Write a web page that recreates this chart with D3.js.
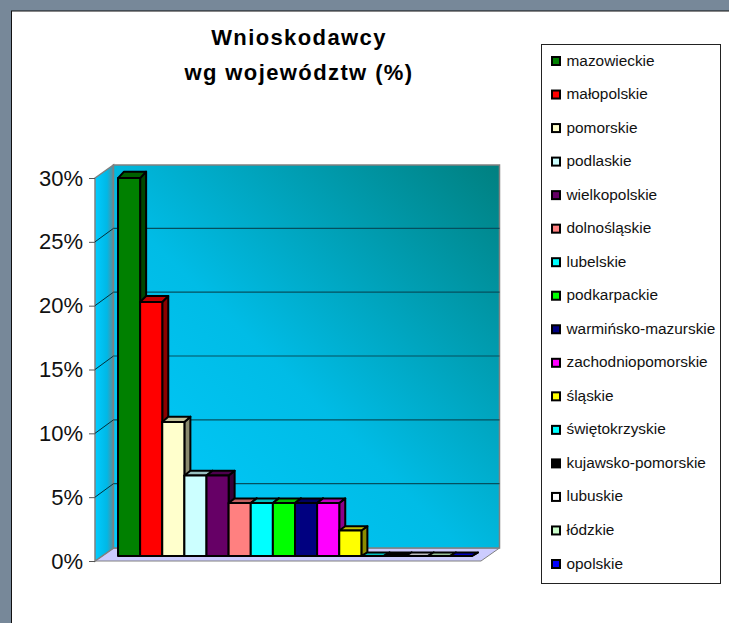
<!DOCTYPE html>
<html>
<head>
<meta charset="utf-8">
<script src="https://d3js.org/d3.v7.min.js"></script>
<style>
  body{ margin:0; background:#fff; }
  svg{ display:block; font-family:"Liberation Sans",Arial,sans-serif; }
</style>
</head>
<body>
<svg id="chart" width="729" height="623"></svg>
<script>
  var regions = ["mazowieckie","małopolskie","pomorskie","podlaskie","wielkopolskie","dolnośląskie","lubelskie","podkarpackie","warmińsko-mazurskie","zachodniopomorskie","śląskie","świętokrzyskie","kujawsko-pomorskie","lubuskie","łódzkie","opolskie"];
  var shares = [29.6,19.9,10.5,6.3,6.3,4.15,4.15,4.15,4.15,4.15,2.0,0,0,0,0,0];
  var colors = ["#008000","#ff0000","#ffffcc","#ccffff","#660066","#ff8080","#00ffff","#00ff00","#000080","#ff00ff","#ffff00","#00ffff","#000000","#ffffff","#ccffcc","#0000ff"];
  var titleLines = ["Wnioskodawcy","wg województw (%)"];
  var yTicks = [0,5,10,15,20,25,30];

  var svg = d3.select("#chart");
  var defs = svg.append("defs");

  var wallGrad = defs.append("linearGradient").attr("id","wall")
    .attr("x1","0%").attr("y1","100%").attr("x2","100%").attr("y2","0%");
  wallGrad.append("stop").attr("offset","0%").attr("stop-color","#00ccff");
  wallGrad.append("stop").attr("offset","45%").attr("stop-color","#00bce6");
  wallGrad.append("stop").attr("offset","100%").attr("stop-color","#008080");

  var sideGrad = defs.append("linearGradient").attr("id","side")
    .attr("x1","0%").attr("y1","0%").attr("x2","100%").attr("y2","0%");
  sideGrad.append("stop").attr("offset","0%").attr("stop-color","#00ccff");
  sideGrad.append("stop").attr("offset","65%").attr("stop-color","#00b8e6");
  sideGrad.append("stop").attr("offset","100%").attr("stop-color","#5f8c99");

  // slide background and white panel
  svg.append("rect").attr("width",729).attr("height",623).attr("fill","#778899");
  svg.append("rect").attr("x",11.5).attr("y",11).attr("width",730).attr("height",630)
    .attr("fill","#fff").attr("stroke","#111").attr("stroke-width",1);

  // title
  svg.append("g").selectAll("text").data(titleLines).enter().append("text")
    .attr("x",299).attr("y",function(d,i){ return 45+i*34.5; })
    .attr("text-anchor","middle")
    .attr("font-size",22).attr("font-weight","bold").attr("fill","#000")
    .attr("letter-spacing",1.4)
    .text(function(d){ return d; });

  // plot geometry
  var left = 95, right = 481;
  var wallDx = 18.5, wallDy = 13;
  var y = d3.scaleLinear().domain([0,30]).range([561,178]);
  var x = d3.scaleBand().domain(regions).range([118,472]).padding(0);
  var barDx = 6, barBase = 5;
  var barY = function(v){ return y(v)-barBase; };
  // the top face gets flatter towards the floor
  var barDy = function(v){ return 3.5+3*Math.sqrt(v/30); };

  function pts(a){ return a.map(function(p){ return p.join(","); }).join(" "); }

  // floor
  svg.append("polygon")
    .attr("points",pts([[left,y(0)],[right,y(0)],[right+wallDx,y(0)-wallDy],[left+wallDx,y(0)-wallDy]]))
    .attr("fill","#ccccff").attr("stroke","#808080").attr("stroke-width",1);
  // side wall
  svg.append("polygon")
    .attr("points",pts([[left,y(30)],[left+wallDx,y(30)-wallDy],[left+wallDx,y(0)-wallDy],[left,y(0)]]))
    .attr("fill","url(#side)").attr("stroke","#808080").attr("stroke-width",1.5);
  // back wall
  svg.append("rect")
    .attr("x",left+wallDx).attr("y",y(30)-wallDy)
    .attr("width",right-left).attr("height",y(0)-y(30))
    .attr("fill","url(#wall)").attr("stroke","#808080").attr("stroke-width",1.5);

  // grid lines, wall and side parts
  var gridVals = yTicks.filter(function(d){ return d>0 && d<30; });
  svg.append("g").selectAll("line.back").data(gridVals).enter().append("line")
    .attr("x1",left+wallDx).attr("x2",right+wallDx)
    .attr("y1",function(d){ return y(d)-wallDy-0.5; }).attr("y2",function(d){ return y(d)-wallDy-0.5; })
    .attr("stroke","#04505f").attr("stroke-width",1.2);
  svg.append("g").selectAll("line.side").data(gridVals).enter().append("line")
    .attr("x1",left).attr("x2",left+wallDx)
    .attr("y1",function(d){ return y(d); }).attr("y2",function(d){ return y(d)-wallDy-0.5; })
    .attr("stroke","#04303a").attr("stroke-width",1);

  // value axis
  var axis = d3.axisLeft(y).tickValues(yTicks).tickSize(6).tickPadding(6)
    .tickFormat(function(d){ return d+"%"; });
  var axisG = svg.append("g").attr("transform","translate("+left+",0)").call(axis);
  axisG.select(".domain").remove();
  axisG.selectAll("line").attr("stroke","#555");
  axisG.selectAll("text").attr("font-size",22).attr("font-family","Liberation Sans").attr("fill","#111");

  // bars: side, top, then front
  var shade = function(c,k){ return d3.color(c).darker(k).formatHex(); };
  var bars = svg.append("g").selectAll("g").data(regions).enter().append("g")
    .attr("stroke","#000").attr("stroke-width",2).attr("stroke-linejoin","round");
  bars.append("polygon").attr("points",function(d,i){
      var r = x(d)+x.bandwidth(), t = barY(shares[i]), b = barY(0);
      var dy = barDy(shares[i]);
      return pts([[r,t],[r+barDx,t-dy],[r+barDx,b-3.5],[r,b]]);
    })
    .attr("fill",function(d,i){ return shade(colors[i],1.7); });
  bars.append("polygon").attr("points",function(d,i){
      var l = x(d), r = l+x.bandwidth(), t = barY(shares[i]);
      var dy = barDy(shares[i]);
      return pts([[l,t],[l+barDx,t-dy],[r+barDx,t-dy],[r,t]]);
    })
    .attr("fill",function(d,i){ return shade(colors[i],0.8); });
  bars.append("rect")
    .attr("x",function(d){ return x(d); })
    .attr("y",function(d,i){ return barY(shares[i]); })
    .attr("width",x.bandwidth())
    .attr("height",function(d,i){ return barY(0)-barY(shares[i]); })
    .attr("fill",function(d,i){ return colors[i]; });

  // legend
  svg.append("rect").attr("x",541.5).attr("y",44.5).attr("width",179).attr("height",539)
    .attr("fill","#fff").attr("stroke","#222").attr("stroke-width",1);
  var ly = d3.scalePoint().domain(regions).range([60.5,563.5]);
  var items = svg.append("g").selectAll("g").data(regions).enter().append("g")
    .attr("transform",function(d){ return "translate(551,"+ly(d)+")"; });
  items.append("rect").attr("x",1).attr("y",-3.5).attr("width",8).attr("height",8)
    .attr("stroke","#000").attr("stroke-width",2)
    .attr("fill",function(d,i){ return colors[i]; });
  items.append("text").attr("x",15.5).attr("y",5)
    .attr("font-size",15.4).attr("fill","#111")
    .text(function(d){ return d; });
</script>
</body>
</html>
